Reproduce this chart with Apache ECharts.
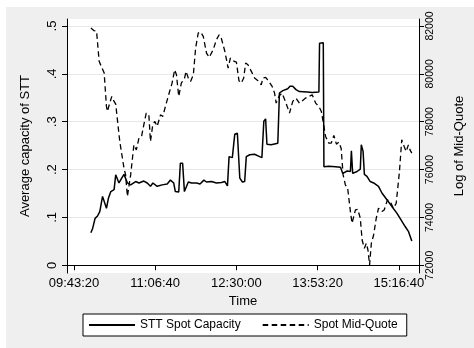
<!DOCTYPE html>
<html>
<head>
<meta charset="utf-8">
<script src="https://cdn.jsdelivr.net/npm/echarts@6/dist/echarts.min.js"></script>
<style>
  html, body { margin: 0; padding: 0; background: #ffffff; }
  #chart { width: 474px; height: 348px; }
</style>
</head>
<body>
<div id="chart"></div>
<script>
// Time in seconds since midnight
var xTicks = [35000, 40000, 45000, 50000, 55000];
var leftTicks = [0, 0.1, 0.2, 0.3, 0.4, 0.5];
var rightTicks = [72000, 74000, 76000, 78000, 80000, 82000];

var capTime = [36040, 36150, 36300, 36450, 36590, 36760, 36860, 37000, 37120, 37270, 37470, 37570, 37680, 37770, 37940, 38080, 38180, 38290, 38490, 38800, 39000, 39300, 39510, 39710, 39860, 40120, 40430, 40740, 40940, 41140, 41240, 41450, 41550, 41690, 41800, 41900, 42040, 42240, 42550, 42760, 43000, 43160, 43470, 43770, 44080, 44290, 44450, 44550, 44750, 44900, 45060, 45210, 45370, 45510, 45610, 45820, 46120, 46430, 46570, 46690, 46800, 46880, 47140, 47550, 47650, 47860, 48160, 48300, 48470, 48670, 48880, 48960, 49370, 49670, 50080, 50120, 50350, 50390, 50690, 51100, 51410, 51550, 51820, 52020, 52080, 52160, 52430, 52630, 52690, 52800, 52880, 53040, 53240, 53450, 53750, 53960, 54270, 54570, 54880, 55080, 55390, 55590, 55800];
var capValue = [0.068, 0.077, 0.098, 0.103, 0.112, 0.144, 0.145, 0.119, 0.140, 0.154, 0.158, 0.189, 0.189, 0.172, 0.182, 0.190, 0.186, 0.172, 0.168, 0.175, 0.172, 0.176, 0.172, 0.165, 0.172, 0.165, 0.168, 0.170, 0.178, 0.172, 0.154, 0.153, 0.213, 0.213, 0.154, 0.157, 0.174, 0.172, 0.172, 0.170, 0.178, 0.174, 0.175, 0.172, 0.173, 0.175, 0.166, 0.227, 0.225, 0.274, 0.276, 0.182, 0.174, 0.175, 0.227, 0.231, 0.232, 0.227, 0.225, 0.301, 0.306, 0.253, 0.252, 0.255, 0.360, 0.365, 0.369, 0.374, 0.374, 0.367, 0.363, 0.363, 0.362, 0.361, 0.362, 0.464, 0.465, 0.206, 0.207, 0.206, 0.205, 0.192, 0.197, 0.196, 0.239, 0.192, 0.196, 0.201, 0.252, 0.238, 0.190, 0.186, 0.175, 0.172, 0.165, 0.151, 0.137, 0.123, 0.109, 0.098, 0.081, 0.071, 0.051];

var quoteTime = [36040, 36240, 36390, 36550, 36710, 36860, 37000, 37060, 37200, 37330, 37470, 37570, 37820, 37940, 38080, 38180, 38290, 38490, 38690, 38840, 39000, 39160, 39300, 39450, 39610, 39710, 39850, 39980, 40120, 40330, 40470, 40630, 40830, 41040, 41200, 41310, 41450, 41610, 41810, 41900, 42040, 42180, 42350, 42490, 42650, 42790, 42960, 43160, 43330, 43570, 43770, 43940, 44080, 44290, 44490, 44630, 44800, 45000, 45160, 45300, 45450, 45570, 45710, 45920, 46120, 46330, 46530, 46630, 46800, 47000, 47200, 47350, 47450, 47650, 47810, 48020, 48270, 48470, 48670, 48880, 49050, 49260, 49470, 49670, 49880, 50080, 50230, 50390, 50490, 50690, 50840, 51000, 51160, 51300, 51450, 51570, 51710, 51850, 52020, 52120, 52220, 52330, 52470, 52630, 52740, 52880, 53000, 53100, 53200, 53310, 53450, 53610, 53750, 53960, 54100, 54300, 54470, 54670, 54840, 55040, 55180, 55330, 55450, 55590, 55690, 55800];
var quoteValue = [81916, 81803, 81790, 80523, 80272, 80033, 78640, 78431, 78778, 79058, 78849, 78736, 77175, 77105, 76059, 75778, 74874, 75778, 77033, 76824, 77314, 77385, 77870, 78360, 78290, 77175, 77870, 78012, 77803, 78289, 78220, 78640, 79125, 79615, 80171, 79962, 79058, 79615, 79824, 80105, 79824, 79686, 79962, 81079, 81707, 81749, 81569, 80870, 80690, 81008, 81427, 81636, 81468, 80941, 80243, 80661, 80548, 80494, 79711, 79615, 79824, 80452, 80380, 80105, 79824, 79711, 79544, 79824, 79850, 79686, 79477, 79196, 78778, 79100, 79196, 78849, 78360, 78849, 78987, 78778, 78870, 78987, 79058, 79125, 78778, 78640, 78431, 77803, 77385, 77105, 77105, 77427, 77063, 77146, 76895, 75778, 75360, 75222, 74247, 73757, 73828, 74314, 74343, 73966, 73058, 72711, 72920, 72640, 72013, 72920, 73268, 73966, 74385, 74247, 74314, 74733, 74665, 74385, 74594, 75920, 77243, 76966, 76757, 77033, 76824, 76686];

var capData = capTime.map(function (t, i) { return [t, capValue[i]]; });
var quoteData = quoteTime.map(function (t, i) { return [t, quoteValue[i]]; });

function pad(n) { return (n < 10 ? '0' : '') + n; }
function fmtTime(s) {
  var h = Math.floor(s / 3600), m = Math.floor((s % 3600) / 60), sec = s % 60;
  return pad(h) + ':' + pad(m) + ':' + pad(sec);
}

var FONT = 'Liberation Sans, Arial, sans-serif';
var chart = echarts.init(document.getElementById('chart'), null, { renderer: 'canvas' });
chart.setOption({
  animation: false,
  backgroundColor: 'transparent',
  textStyle: { fontFamily: FONT },
  graphic: [
    { type: 'rect', z: -10, silent: true, shape: { x: 6, y: 7, width: 468, height: 341 }, style: { fill: '#efefef' } }
  ],
  grid: { left: 67, right: 53, top: 19, bottom: 75, show: true, backgroundColor: '#ffffff', borderWidth: 0 },
  legend: {
    left: 83, top: 314,
    padding: [5, 9, 5, 5],
    itemWidth: 46, itemHeight: 12, itemGap: 21,
    backgroundColor: '#ffffff', borderColor: '#000000', borderWidth: 1, borderRadius: 0,
    itemStyle: { opacity: 0 },
    textStyle: { fontFamily: FONT, fontSize: 12, color: '#000000' },
    data: ['STT Spot Capacity', 'Spot Mid-Quote']
  },
  xAxis: {
    type: 'value', min: 34571, max: 56243,
    name: 'Time', nameLocation: 'middle', nameGap: 19,
    nameTextStyle: { fontFamily: FONT, fontSize: 13, color: '#000000' },
    axisLine: { show: true, lineStyle: { color: '#000000', width: 1 } },
    axisTick: { show: true, customValues: xTicks, length: 5, lineStyle: { color: '#000000' } },
    axisLabel: { customValues: xTicks, formatter: fmtTime, fontSize: 13, color: '#000000', margin: 4, fontFamily: FONT },
    splitLine: { show: false }
  },
  yAxis: [
    {
      type: 'value', position: 'left', min: -0.0161, max: 0.5146,
      name: 'Average capacity of STT', nameLocation: 'middle', nameGap: 35, nameRotate: 90,
      nameTextStyle: { fontFamily: FONT, fontSize: 13, color: '#000000' },
      axisLine: { show: true, lineStyle: { color: '#000000', width: 1 } },
      axisTick: { show: true, customValues: leftTicks, length: 5, lineStyle: { color: '#000000' } },
      axisLabel: { customValues: leftTicks, rotate: 90, fontSize: 13, color: '#000000', margin: 8, fontFamily: FONT,
        formatter: function (v) { return v === 0 ? '0' : '.' + Math.round(v * 10); } },
      splitLine: { show: true, lineStyle: { color: '#e8e8e8', width: 1 } }
    },
    {
      type: 'value', position: 'right', min: 71678, max: 82293,
      name: 'Log of Mid-Quote', nameLocation: 'middle', nameGap: 34, nameRotate: 90,
      nameTextStyle: { fontFamily: FONT, fontSize: 13, color: '#000000' },
      axisLine: { show: true, lineStyle: { color: '#000000', width: 1 } },
      axisTick: { show: true, customValues: rightTicks, length: 5, lineStyle: { color: '#000000' } },
      axisLabel: { customValues: rightTicks, rotate: 90, fontSize: 10.5, color: '#000000', margin: 6, fontFamily: FONT,
        formatter: function (v) { return String(Math.round(v)); } },
      splitLine: { show: false }
    }
  ],
  series: [
    {
      name: 'STT Spot Capacity', type: 'line', yAxisIndex: 0, data: capData,
      symbol: 'none', lineStyle: { color: '#000000', width: 1.5, type: 'solid' },
      itemStyle: { color: '#000000' }
    },
    {
      name: 'Spot Mid-Quote', type: 'line', yAxisIndex: 1, data: quoteData,
      symbol: 'none', lineStyle: { color: '#000000', width: 1.3, type: [5.5, 3.5] },
      itemStyle: { color: '#000000' }
    }
  ]
});
</script>
</body>
</html>
